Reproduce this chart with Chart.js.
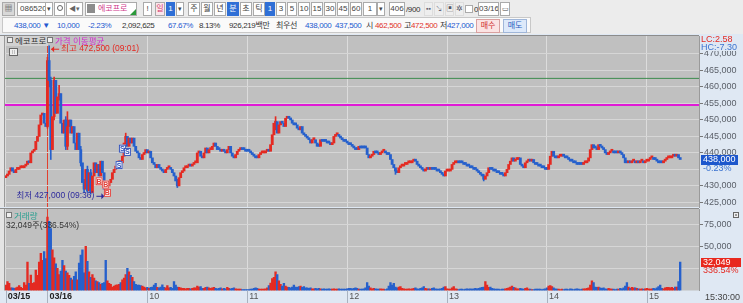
<!DOCTYPE html>
<html lang="ko"><head><meta charset="utf-8"><title>에코프로 분차트</title>
<script src="https://cdn.jsdelivr.net/npm/chart.js@4.4.0/dist/chart.umd.min.js"></script>
<style>
html,body{margin:0;padding:0}
body{width:743px;height:303px;overflow:hidden;position:relative;background:#ececec;font-family:"Liberation Sans","Noto Sans CJK KR",sans-serif;font-size:8px;color:#333}
#row2{position:absolute;left:2px;top:17px;width:529px;height:16px;background:#fafafa;border:1px solid #c8c8c8;box-sizing:border-box}
.b{position:absolute;top:2px;height:14px;box-sizing:border-box;border:1px solid #aaa;background:#fff;line-height:12px;text-align:center;white-space:nowrap;color:#444;overflow:hidden}
.s{background:#2f6fd6;border-color:#2f6fd6;color:#fff}
.t{position:absolute;top:20px;line-height:11px;white-space:nowrap;letter-spacing:-0.35px}
.blue{color:#2458d0}.red{color:#e0302a}
canvas{position:absolute;left:0}
.ov{position:absolute;white-space:nowrap;line-height:10px;font-size:8.5px}
.sq{display:inline-block;width:4px;height:4px;border:1px solid #777;background:#eee;margin-right:2px;vertical-align:1px}
</style></head><body>

<!-- toolbar row 1 -->
<div class="b" style="left:2px;width:13px;background:#d8d8d8;font-size:8px">▦</div>
<div class="b" style="left:17px;width:29px;text-align:left;padding-left:2px">086520</div>
<div class="b" style="left:45px;width:8px;font-size:7px">▾</div>
<div class="b" style="left:54px;width:11px"><div style="position:absolute;left:2px;top:2px;width:4px;height:4px;border:1px solid #666;border-radius:50%"></div></div>
<div class="b" style="left:66px;width:17px;font-size:7px;color:#666">◀▾</div>
<div class="b" style="left:85px;width:52px;text-align:left">
  <span style="display:inline-block;width:8px;height:9px;background:#8c8c8c;margin:1px 3px 0 1px;vertical-align:top"></span><span style="color:#d0388c">에코프로</span>
  <span style="position:absolute;right:0;bottom:0;width:0;height:0;border-left:6px solid transparent;border-bottom:6px solid #2a9a3a"></span></div>
<div class="b" style="left:143px;width:9px">!</div>
<div class="b" style="left:155px;width:10px;color:#d33c6a;background:#fbe6ec">일</div>
<div class="b s" style="left:166px;width:9px">1</div>
<div class="b" style="left:176px;width:8px;font-size:7px">▾</div>
<div class="b" style="left:188px;width:12px">주</div>
<div class="b" style="left:201px;width:12px">월</div>
<div class="b" style="left:214px;width:12px">년</div>
<div class="b s" style="left:227px;width:12px">분</div>
<div class="b" style="left:240px;width:12px">초</div>
<div class="b" style="left:253px;width:12px">틱</div>
<div class="b s" style="left:265px;width:10px">1</div>
<div class="b" style="left:276px;width:10px">3</div>
<div class="b" style="left:287px;width:10px">5</div>
<div class="b" style="left:298px;width:12px">10</div>
<div class="b" style="left:311px;width:12px">15</div>
<div class="b" style="left:324px;width:12px">30</div>
<div class="b" style="left:337px;width:12px">45</div>
<div class="b" style="left:350px;width:12px">60</div>
<div class="b" style="left:363px;width:14px">1</div>
<div class="b" style="left:377px;width:8px;font-size:7px">▾</div>
<div class="b" style="left:389px;width:16px">406</div>
<div class="t" style="left:406px;top:4px">/900</div>
<div class="b" style="left:424px;width:9px;border-color:#ddd;background:#eee;font-size:7px;color:#667">▪▪</div>
<div class="b" style="left:434px;width:10px;border-color:#ddd;background:#eee;font-size:7px;color:#667">↘</div>
<div class="b" style="left:445px;width:9px;border-color:#ddd;background:#eee;font-size:8px;color:#556">▣</div>
<div class="b" style="left:455px;width:9px;border-color:#ddd;background:#eee;font-size:8px;color:#556">✲</div>
<div class="b" style="left:465px;width:8px;height:8px;top:5px"></div>
<div class="t" style="left:474px;top:4px">0</div>
<div class="b" style="left:478px;width:21px">03/16</div>
<div class="b" style="left:500px;width:10px;font-size:7px">▭</div>

<!-- toolbar row 2 -->
<div id="row2"></div>
<div class="t blue" style="left:14px">438,000 ▼</div>
<div class="t blue" style="left:57px">10,000</div>
<div class="t blue" style="left:88px">-2.23%</div>
<div class="t" style="left:122px">2,092,625</div>
<div class="t blue" style="left:168px">67.67%</div>
<div class="t" style="left:199px">8.13%</div>
<div class="t" style="left:229px">926,219백만</div>
<div class="t" style="left:276px">최우선</div>
<div class="t blue" style="left:305px">438,000</div>
<div class="t blue" style="left:335px">437,500</div>
<div class="t" style="left:366px">시</div>
<div class="t red" style="left:375px">462,500</div>
<div class="t" style="left:404px">고</div>
<div class="t red" style="left:411px">472,500</div>
<div class="t" style="left:440px">저</div>
<div class="t blue" style="left:447px">427,000</div>
<div class="b" style="left:476px;top:19px;width:24px;background:#fbe3e3;border-color:#d9a0a0;color:#d03030">매수</div>
<div class="b" style="left:503px;top:19px;width:24px;background:#dde9fa;border-color:#9fb6d9;color:#2b5fc0">매도</div>

<canvas id="priceCanvas" width="743" height="174" style="top:34px"></canvas>
<canvas id="volCanvas" width="743" height="95" style="top:208px"></canvas>

<div class="ov" style="left:6px;top:36px;background:#d2d2d2;padding:0 2px 0 1px"><span class="sq"></span>에코프로</div>
<div class="ov" style="left:47px;top:36px;color:#d22ccf"><span class="sq"></span>가격 이동평균</div>
<div class="ov" style="left:9px;top:48px;width:7px;height:6px;border:1px solid #666;background:#eee;font-size:6px;line-height:6px;text-align:center;color:#555">⁞⁞</div>
<div class="ov" style="left:6px;top:211px;color:#2a9f90"><span class="sq"></span>거래량</div>
<div class="ov" style="left:6px;top:220px;color:#333">32,049주(336.54%)</div>

<script>
'use strict';
// 1-minute closes (thousand won): 03/15 14:56-15:20, then 03/16 09:00 .. 15:19, 15:30
const closeK=[
  433.0,433.5,434.5,435.5,434.5,434.0,435.0,435.0,435.5,435.5,435.5,436.0,436.5,437.5,437.0,440.0,440.5,441.0,443.5,445.0,448.5,451.5,452.0,449.0,448.0,
  // 09:00
  468,462,441,451,462,452,457,458,449,446,450,442,448,450,446,448,443,441,446,441,
  437,431,429,435,428.5,434,428,433,437,434,436.5,433,437.5,434,429,428.5,430,431,432,434,
  435,436,437,437.5,437,439,443,445,442,444.5,443,444.5,442,440.5,440,438.5,438,439.5,440,441,
  // 10:00
  440,440.5,438.5,437,436.5,435.5,436.5,435.5,435,434.5,434,435,435.5,435.5,435,434,433,431.5,430,432.5,
  434,434.5,435.5,435.5,436,436.5,436,436.5,437,437,440,440.5,439,438.5,440,441.5,440,441,441,442,
  443,442,441,441,440.5,441,440.5,440,441,442,440,439,438.5,439.5,440.5,441,441.5,441,441,440.5,
  // 11:00
  440.5,440.5,440,439.5,439,438.5,438.5,439.5,440,440,440,440.5,441,440.5,442.5,445.5,449,449.5,446,448.5,
  449.5,449,448,450.5,451,450.5,450,449,448.5,448.5,447.5,447,448,446,445.5,445,444.5,444,443,444,
  444,443,442,442,444,443.5,443.5,443.5,443,443,442.5,443,445,445.5,445.5,445,444.5,444,443.5,443.5,
  // 12:00
  443,442.5,442.5,442,441.5,441,441,442,441.5,441.5,441.5,441.5,439.5,438.5,439,439.5,440.5,440,440,439.5,
  440,440.5,440.5,440,439.5,439.5,438,436.5,435.5,434.5,434,435.5,436,436,436.5,436.5,437,437,437,437.5,
  438,437.5,436.5,436,435.5,435,434.5,435,435.5,435,435.5,435,435,435,434.5,434.5,434,433.5,433,434.5,
  // 13:00
  434.5,434.5,435,436.5,437,437,437.5,437,437,437,436.5,436.5,436,436,435.5,435.5,435,435,434.5,434,
  433.5,433,432,433,434,435.5,435,435,434.5,434.5,434,434,433.5,433.5,433,434,435,436.5,437.5,438.5,
  437.5,438,438,438.5,436.5,436,435.5,437,437.5,438,437.5,438,437,436.5,436.5,436,436,435.5,435.5,435,
  // 14:00
  435,436.5,439,440.5,439,438.5,438.5,439,439,439.5,439,438.5,438.5,438,437.5,437.5,437,437,436.5,436.5,
  436.5,436.5,437,437,437.5,438.5,441,442.5,441.5,441.5,441,442.5,442,441.5,441,440,439.5,440,440.5,440.5,
  440,440,440,440.5,440,439.5,438.5,437,437,437.5,437,437.5,437.5,437,437.5,437,437.5,437.5,437,437.5,
  // 15:00
  437.5,438,438.5,438.5,438,438,437.5,437,437,437,437.5,438,438.5,438.5,438.5,439,439.5,439,439.5,438.5,
  438
];
const firstOpenK=432.5;
const volumes=[
  6000,10000,8000,3000,3000,2500,3000,4000,5500,3500,2500,9000,6000,32000,8000,17500,8000,9000,23000,17000,32000,42000,34000,44000,36000,
  83000,78000,70000,46000,37000,30000,25000,18000,22000,34000,28000,22000,20000,17000,14000,12000,16000,21000,12000,31000,
  40000,46000,20000,50000,33000,21000,15000,18000,14000,11000,10000,9000,7000,8000,9000,34000,11000,8000,7000,4000,
  5000,6000,6500,7000,9000,12000,14000,18000,25000,21000,17000,15000,10000,7000,6000,6000,5500,5000,4000,3000,
  3500,2500,3500,4000,6000,8000,3500,3000,4000,6500,3500,3000,5500,3000,3500,2500,10000,6000,4000,3500,
  3000,2500,2500,2000,2500,2500,2000,2500,3000,3000,5000,4000,4500,2500,2500,3500,4000,3000,2500,3000,
  3500,2500,2000,2500,3000,2000,2500,2000,3500,2500,2000,2500,3000,2000,1500,1500,1500,1000,1000,1000,
  1000,1000,1500,1500,2500,3000,2500,1500,1500,1500,1500,2000,3000,5500,8500,13500,15000,21000,18000,11000,
  7000,5000,8000,5000,4000,3500,3000,4000,6000,4000,3500,4500,5000,3500,4500,3000,3000,2500,3000,2000,
  2000,2500,2000,2500,2000,1500,2000,1500,1500,2000,1500,1500,2000,1500,1500,2000,1500,1500,1500,1500,
  2000,2500,2500,2000,2500,3000,2500,1500,1500,1500,2000,3000,9000,5000,3000,2000,2500,2000,1500,1500,
  2000,1500,1500,1000,2000,5000,9000,6000,8000,4000,3000,4000,4500,2500,2000,1500,1500,2000,1500,2000,
  2500,3000,2000,1500,2500,3000,4500,2500,2000,2000,1500,2500,3000,2000,1500,1500,2000,2500,4000,4500,
  2000,1500,1500,3000,4500,2000,1500,1000,1500,1500,1000,1500,2000,1500,2000,1500,2000,2500,2000,2500,
  3000,3500,4000,10000,6000,3500,4000,2500,2000,1500,1500,1500,1000,1500,1500,2000,2500,3000,4000,5000,
  3500,3000,2000,2000,2500,2000,1500,2500,3000,1500,1500,1000,1000,1500,1500,1500,1500,1000,1500,2000,
  3000,5000,5500,4500,3000,2000,1500,1500,1000,1500,1000,1500,1500,1000,2000,1500,1000,1500,2000,1500,
  1000,1500,2000,2000,2500,3000,6000,11000,9000,4000,3500,4000,3000,2500,3000,2000,1500,2500,2000,1500,
  1500,1000,1500,1500,2500,2000,3000,5000,9000,4000,2500,3500,3000,3000,2500,2000,1500,2000,1500,2000,
  2500,2000,1500,2000,2500,2000,3000,4500,6000,2500,2000,3000,3500,3500,3000,3500,2500,4000,4000,10000,
  32049
];
const xTickIdx=[0,25,85,145,205,265,325,385];
const xTickText=['03/15','03/16','10','11','12','13','14','15'];
const priceTickK=[425,430,435,440,445,450,455,460,465,470];
const volTicks=[25000,50000,75000];
// notable shadows (wicks)
const wickIdx=[25,26,27,29,32,36,37,45,47,49,51,61,72,103,162,234,287];
const wickLowK=[447.5,460,438,450,456,441,441,436,428,428,427.5,427,442,429.5,447,433.5,431.5];
const wickHighK=[469,472.5,463,463,460.5,451,452.5,442,432,436,435,431,446,432,451,435,433.5];
const levelGreenK=462.6, levelPinkK=454.5;
const highIdx=26, highK=472.5, highTime='09:01';
const lowIdx=61, lowK=427, lowTime='09:36';
const sigIdx=[56,60,61,68,70,73];
const sigK=[431.4,430.4,427.9,436.3,441.3,440.3];
const sigType=['B','B','B','S','S','S'];
const dayRate='-0.23%', lcText='LC:2.58', hcText='HC:-7.30', volRate='336.54%', closeTime='15:30:00';

const RED='#e42a22', BLUE='#2660cc', PLOT='#c0c0c0', AXISBG='#dfe8f3', GRID='#d6d6d6';
const FONT='"Liberation Sans","Noto Sans CJK KR",sans-serif';
const fmt=v=>Math.round(v).toLocaleString('en-US');
const XMIN=-0.5, XMAX=416.3;

// candle bodies run from the previous close to the close
const bodyColor=[];
closeK.forEach((c,i)=>{
  const o=i?closeK[i-1]:firstOpenK;
  bodyColor.push(c>o?RED:c<o?BLUE:(i?bodyColor[i-1]:RED));
});

function panelBg(ch){
  const {ctx,chartArea:a,width,height}=ch;
  ctx.save();
  ctx.fillStyle=AXISBG;ctx.fillRect(0,0,width,height);
  ctx.fillStyle='#e4e4e4';ctx.fillRect(0,a.top,a.left,a.bottom-a.top);
  ctx.fillStyle=PLOT;ctx.fillRect(a.left,a.top,a.right-a.left,a.bottom-a.top);
  ctx.fillStyle='#8c8c8c';ctx.fillRect(0,a.top-1,a.right,1);
  ctx.fillStyle='#9a9a9a';ctx.fillRect(a.left-1,a.top,1,a.bottom-a.top);
  ctx.restore();
}

function xAxis(withLabels){
  return {
    type:'linear',min:XMIN,max:XMAX,offset:false,
    afterBuildTicks:s=>{s.ticks=xTickIdx.map(v=>({value:v}));},
    afterFit:s=>{s.height=withLabels?12.5:0;s.paddingLeft=0;s.paddingRight=0;},
    border:{display:false},
    grid:{offset:false,drawTicks:false,color:c=>c.tick&&c.tick.value===25?'#e2402e':'#dcdcdc'},
    ticks:{display:withLabels,autoSkip:false,maxRotation:0,align:'start',padding:1,labelOffset:2,
      color:c=>c.index<2?'#222':'#555',
      font:c=>({family:FONT,size:9,weight:c.index<2?'bold':'normal'}),
      callback:(v,i)=>xTickText[i]}
  };
}

const priceDecor={
  id:'priceDecor',
  beforeDraw:panelBg,
  afterDatasetsDraw(ch){
    const {ctx}=ch, xs=ch.scales.x, ys=ch.scales.y;
    ctx.save();
    ctx.font='8.5px '+FONT;ctx.textBaseline='middle';
    // high marker
    const hx=xs.getPixelForValue(highIdx)+2, hy=ys.getPixelForValue(highK)+3;
    ctx.strokeStyle=RED;ctx.fillStyle=RED;ctx.lineWidth=1;
    ctx.beginPath();ctx.moveTo(hx,hy+0.5);ctx.lineTo(hx+8,hy+0.5);ctx.stroke();
    ctx.beginPath();ctx.moveTo(hx,hy+0.5);ctx.lineTo(hx+3,hy-2.5);ctx.lineTo(hx+3,hy+3.5);ctx.fill();
    ctx.fillText('최고 '+fmt(highK*1000)+' ('+highTime+')',hx+10,hy);
    // low marker
    const lx=xs.getPixelForValue(lowIdx)-3, ly=ys.getPixelForValue(lowK);
    ctx.strokeStyle='#2d2a9c';ctx.fillStyle='#2d2a9c';
    ctx.beginPath();ctx.moveTo(lx-8,ly+0.5);ctx.lineTo(lx,ly+0.5);ctx.stroke();
    ctx.beginPath();ctx.moveTo(lx,ly+0.5);ctx.lineTo(lx-3,ly-2.5);ctx.lineTo(lx-3,ly+3.5);ctx.fill();
    ctx.textAlign='right';
    ctx.fillText('최저 '+fmt(lowK*1000)+' ('+lowTime+')',lx-10,ly);
    // buy / sell signals
    ctx.textAlign='center';ctx.font='bold 7px '+FONT;
    sigIdx.forEach((k,j)=>{
      const x=xs.getPixelForValue(k), y=ys.getPixelForValue(sigK[j]);
      const col=sigType[j]==='B'?'#e0403a':'#2f4fb8';
      ctx.fillStyle='#fff';ctx.fillRect(x-3.5,y-4,7,8);
      ctx.strokeStyle=col;ctx.strokeRect(x-3,y-3.5,6,7);
      ctx.fillStyle=col;ctx.fillText(sigType[j],x,y+0.5);
    });
    ctx.restore();
  },
  afterDraw(ch){
    const {ctx,chartArea:a,width}=ch, ys=ch.scales.y;
    ctx.save();
    ctx.font='9px '+FONT;ctx.textBaseline='middle';
    ctx.fillStyle=AXISBG;ctx.fillRect(a.right+1,1,width-a.right-1,16);
    ctx.fillStyle=RED;ctx.fillText(lcText,a.right+2,6);
    ctx.fillStyle='#3b73d0';ctx.fillText(hcText,a.right+2,13.5);
    const last=closeK[closeK.length-1], py=Math.round(ys.getPixelForValue(last));
    ctx.fillStyle=AXISBG;ctx.fillRect(a.right+1,py+5,width-a.right-1,9);
    ctx.fillStyle='#1d57cc';ctx.fillRect(a.right+2,py-5,37,10);
    ctx.fillStyle='#fff';ctx.fillText(fmt(last*1000),a.right+4,py);
    ctx.fillStyle='#3b73d0';ctx.fillText(dayRate,a.right+4,py+9);
    ctx.restore();
  }
};

const volDecor={
  id:'volDecor',
  beforeDraw:panelBg,
  afterDraw(ch){
    const {ctx,chartArea:a,width,height}=ch, xs=ch.scales.x, ys=ch.scales.y;
    ctx.save();
    ctx.fillStyle='#a9b3c0';
    xTickIdx.forEach(v=>{ctx.fillRect(Math.round(xs.getPixelForValue(v)),a.bottom,1,height-a.bottom);});
    ctx.font='9px '+FONT;ctx.textBaseline='middle';
    const lv=volumes[volumes.length-1], vy=Math.round(ys.getPixelForValue(lv));
    ctx.fillStyle=AXISBG;ctx.fillRect(a.right+1,vy+4,width-a.right-1,9);
    ctx.fillStyle='#e8281e';ctx.fillRect(a.right+2,vy-4,width-a.right-4,9);
    ctx.fillStyle='#fff';ctx.fillText(fmt(lv),a.right+4,vy+0.5);
    ctx.fillStyle=RED;ctx.fillText(volRate,a.right+4,vy+8.5);
    ctx.fillStyle='#444';ctx.fillText(closeTime,a.right+6,a.bottom+7);
    ctx.fillStyle='#eee';ctx.fillRect(width-10,a.top+3,6,6);
    ctx.strokeStyle='#666';ctx.strokeRect(width-9.5,a.top+3.5,5,5);
    ctx.fillStyle='#444';ctx.fillRect(width-8,a.top+5.5,2,1);
    ctx.restore();
  }
};

const baseOpts={
  responsive:false,maintainAspectRatio:false,devicePixelRatio:1,animation:false,
  events:[],
  plugins:{legend:{display:false},tooltip:{enabled:false}}
};

new Chart(document.getElementById('priceCanvas'),{
  type:'bar',
  data:{datasets:[
    {data:closeK.map((c,i)=>({x:i,y:[i?closeK[i-1]:firstOpenK,c]})),backgroundColor:bodyColor,
      barThickness:2.2,minBarLength:2,grouped:false,order:1},
    {data:wickIdx.map((k,j)=>({x:k,y:[wickLowK[j],wickHighK[j]]})),backgroundColor:wickIdx.map(k=>bodyColor[k]),
      barThickness:1,grouped:false,order:2},
    {type:'line',data:[{x:XMIN,y:levelGreenK},{x:XMAX,y:levelGreenK}],borderColor:'#3d8b4e',borderWidth:1,pointRadius:0,order:3},
    {type:'line',data:[{x:XMIN,y:levelPinkK},{x:XMAX,y:levelPinkK}],borderColor:'#e01ad6',borderWidth:2,pointRadius:0,order:3}
  ]},
  options:{...baseOpts,
    layout:{padding:{left:5,top:2,right:0,bottom:1}},
    scales:{
      x:xAxis(false),
      y:{position:'right',min:423.6,max:475.45,
        afterBuildTicks:s=>{s.ticks=priceTickK.map(v=>({value:v}));},
        afterFit:s=>{s.width=44;s.paddingTop=0;s.paddingBottom=0;},
        border:{color:'#9a9a9a'},
        grid:{color:GRID,tickColor:'#777',tickLength:4},
        ticks:{autoSkip:false,padding:1,color:'#5a5f68',font:{family:FONT,size:9},callback:v=>fmt(v*1000)}}
    }
  },
  plugins:[priceDecor]
});

new Chart(document.getElementById('volCanvas'),{
  type:'bar',
  data:{datasets:[
    {data:volumes.map((v,i)=>({x:i,y:v})),backgroundColor:bodyColor,barThickness:1.7,grouped:false}
  ]},
  options:{...baseOpts,
    layout:{padding:{left:5,top:1,right:0,bottom:0}},
    scales:{
      x:xAxis(true),
      y:{position:'right',min:0,max:92000,
        afterBuildTicks:s=>{s.ticks=volTicks.map(v=>({value:v}));},
        afterFit:s=>{s.width=44;s.paddingTop=0;s.paddingBottom=0;},
        border:{color:'#9a9a9a'},
        grid:{color:GRID,tickColor:'#777',tickLength:4},
        ticks:{autoSkip:false,padding:1,color:'#5a5f68',font:{family:FONT,size:9},callback:v=>v===25000?'':fmt(v)}}
    }
  },
  plugins:[volDecor]
});
</script>
</body></html>
